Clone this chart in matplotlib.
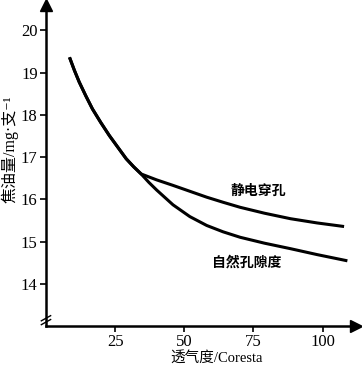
import matplotlib
matplotlib.use('Agg')
import matplotlib.pyplot as plt

plt.rcParams['font.family'] = ['Liberation Serif', 'Noto Sans CJK SC', 'DejaVu Sans']

# common part of both curves
x_common = [8.7, 10.3, 12.0, 14.4, 16.8, 19.8, 22.9, 26.0, 29.0, 31.7, 34.4]
y_common = [19.33, 19.05, 18.78, 18.45, 18.14, 17.82, 17.51, 17.23, 16.96, 16.77, 16.60]

# 静电穿孔
x_elec = [34.4, 40.0, 45.9, 52.0, 58.1, 64.0, 70.2, 79.0, 88.4, 98.0, 107.2]
y_elec = [16.60, 16.46, 16.33, 16.19, 16.05, 15.93, 15.81, 15.67, 15.54, 15.44, 15.36]

# 自然孔隙度
x_nat = [34.4, 37.2, 40.0, 45.9, 52.0, 58.1, 64.0, 70.2, 79.0, 88.4, 98.0, 108.4]
y_nat = [16.60, 16.40, 16.22, 15.87, 15.59, 15.38, 15.23, 15.10, 14.96, 14.83, 14.69, 14.55]

xticks = [25, 50, 75, 100]
yticks = [14, 15, 16, 17, 18, 19, 20]

fig = plt.figure(figsize=(3.62, 3.65), dpi=100)
ax = fig.add_axes([0.127, 0.107, 0.856, 0.879])

ax.plot(x_common + x_elec[1:], y_common + y_elec[1:], color='black', lw=2.2,
        solid_joinstyle='round')
ax.plot(x_common + x_nat[1:], y_common + y_nat[1:], color='black', lw=2.2,
        solid_joinstyle='round')

ax.set_xlim(0, 112)
ax.set_ylim(13, 20.6)
ax.set_xticks(xticks)
ax.set_yticks(yticks)
ax.tick_params(direction='out', length=4, width=1.2, labelsize=12, pad=2)

for s in ['top', 'right']:
    ax.spines[s].set_visible(False)
for s in ['left', 'bottom']:
    ax.spines[s].set_linewidth(1.8)

# arrow heads
ax.plot(1, 0, '>', color='black', ms=8, transform=ax.transAxes, clip_on=False)
ax.plot(0, 1, '^', color='black', ms=8, transform=ax.transAxes, clip_on=False)

# axis break mark
for dy in [0.012, 0.024]:
    ax.plot([-0.015, 0.015], [dy - 0.008, dy + 0.008], color='black', lw=1,
            transform=ax.transAxes, clip_on=False)

ax.text(76.7, 16.21, '静电穿孔', fontsize=10, fontweight='bold',
        family=['Noto Sans CJK SC'], ha='center', va='center')
ax.text(72.7, 14.5, '自然孔隙度', fontsize=10, fontweight='bold',
        family=['Noto Sans CJK SC'], ha='center', va='center')

ax.set_xlabel('透气度/Coresta', fontsize=10.5)
ax.xaxis.set_label_coords(0.55, -0.078)
ax.set_ylabel('焦油量/mg·支⁻¹', fontsize=11.5)
ax.yaxis.set_label_coords(-0.088, 0.55)

fig.savefig('out.png', dpi=100)
